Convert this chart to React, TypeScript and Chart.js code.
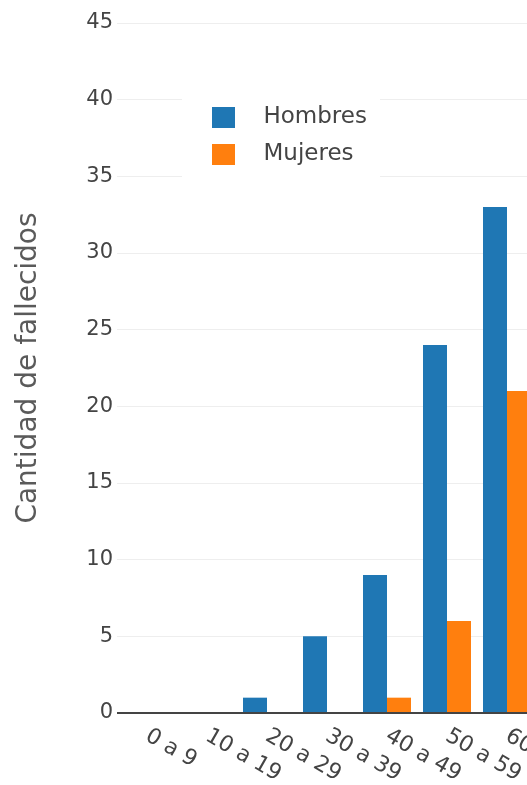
import React, { useEffect, useRef } from 'react';
import { Chart, registerables, CategoryScale } from 'chart.js';

Chart.register(...registerables);

const categories = ['0 a 9', '10 a 19', '20 a 29', '30 a 39', '40 a 49', '50 a 59', '60 a 69'];
const hombres = [0, 0, 1, 5, 9, 24, 33];
const mujeres = [0, 0, 0, 0, 1, 6, 21];
const yTicks = { min: 0, max: 45, step: 5 };
const seriesNames = ['Hombres', 'Mujeres'];
const seriesColors = ['#1f77b4', '#ff7f0e'];

const FONT = 'DejaVu Sans';
const TEXT = '#444';

class SlantCategoryScale extends CategoryScale {
  static id = 'slantCategory';
  _computeLabelItems(chartArea: any) {
    // @ts-ignore
    const items = super._computeLabelItems(chartArea);
    for (const it of items) {
      const r = it.options.rotation;
      const lh = it.font.lineHeight;
      const tr = it.options.translation;
      it.options.translation = [tr[0] - lh * Math.sin(r), tr[1]];
      it.options.rotation = -r;
      it.options.textAlign = 'left';
    }
    return items;
  }
}
Chart.register(SlantCategoryScale as any);

function makeSwatch(color: string) {
  const c = document.createElement('canvas');
  c.width = 40;
  c.height = 21;
  const g = c.getContext('2d')!;
  g.fillStyle = color;
  g.fillRect(0, 0, 23, 21);
  return c;
}

const legendPlacement = {
  id: 'legendPlacement',
  afterLayout(chart: any) {
    const l = chart.legend;
    const ca = chart.chartArea;
    if (!l) return;
    l.left = ca.left + 81;
    l.top = ca.top + 69;
    l.width = 182;
    l.height = 92;
    l.right = l.left + l.width;
    l.bottom = l.top + l.height;
  },
  beforeDatasetsDraw(chart: any) {
    const l = chart.legend;
    if (!l) return;
    const ctx = chart.ctx;
    ctx.save();
    ctx.fillStyle = '#ffffff';
    ctx.fillRect(l.left - 16, l.top - 2, l.width + 16, l.height);
    ctx.restore();
    l.draw();
  },
};

export default function App() {
  const ref = useRef<HTMLCanvasElement>(null);
  useEffect(() => {
    if (!ref.current) return;
    const swatches = seriesColors.map(makeSwatch);
    const chart = new Chart(ref.current, {
      type: 'bar',
      data: {
        labels: categories,
        datasets: [
          { label: seriesNames[0], data: hombres, backgroundColor: seriesColors[0], borderWidth: 0 },
          { label: seriesNames[1], data: mujeres, backgroundColor: seriesColors[1], borderWidth: 0 },
        ],
      },
      plugins: [legendPlacement],
      options: {
        animation: false,
        responsive: false,
        maintainAspectRatio: false,
        layout: { padding: { top: 23, left: 0, right: 0, bottom: 0 } },
        datasets: { bar: { categoryPercentage: 0.8, barPercentage: 1.0 } },
        plugins: {
          tooltip: { enabled: false },
          legend: {
            position: 'chartArea',
            align: 'start',
            labels: {
              usePointStyle: true,
              pointStyleWidth: 40,
              boxHeight: 21,
              padding: 14,
              color: TEXT,
              font: { family: FONT, size: 23 },
              generateLabels: (chart: any) => {
                const items = (Chart.defaults.plugins.legend.labels as any).generateLabels(chart);
                return items.map((it: any, i: number) => ({ ...it, pointStyle: swatches[i] }));
              },
            },
          },
        },
        scales: {
          x: {
            type: 'slantCategory' as any,
            grid: { display: false, drawTicks: false },
            border: { display: false },
            ticks: {
              minRotation: 30,
              maxRotation: 30,
              autoSkip: false,
              padding: 10,
              color: TEXT,
              font: { family: FONT, size: 22 },
            },
            afterFit: (s: any) => {
              s.height = 72;
              s.paddingLeft = 0;
              s.paddingRight = 0;
            },
          },
          y: {
            min: yTicks.min,
            max: yTicks.max,
            ticks: { stepSize: yTicks.step, padding: 4, color: TEXT, font: { family: FONT, size: 21 } },
            grid: {
              drawTicks: false,
              color: (c: any) => (c.tick && c.tick.value === 0 ? '#444444' : '#eeeeee'),
              lineWidth: (c: any) => (c.tick && c.tick.value === 0 ? 2 : 1),
            },
            border: { display: false },
            title: {
              display: true,
              text: 'Cantidad de fallecidos',
              color: '#5a5a5a',
              font: { family: FONT, size: 28 },
              padding: { top: 12, bottom: 0 },
            },
            afterFit: (s: any) => {
              s.width = 117;
            },
          },
        },
      } as any,
    });
    return () => chart.destroy();
  }, []);
  return (
    <div style={{ position: 'fixed', left: 0, top: 0, width: 527, height: 785, overflow: 'hidden', background: '#fff' }}>
      <canvas ref={ref} width={537} height={785} style={{ display: 'block' }} />
    </div>
  );
}
